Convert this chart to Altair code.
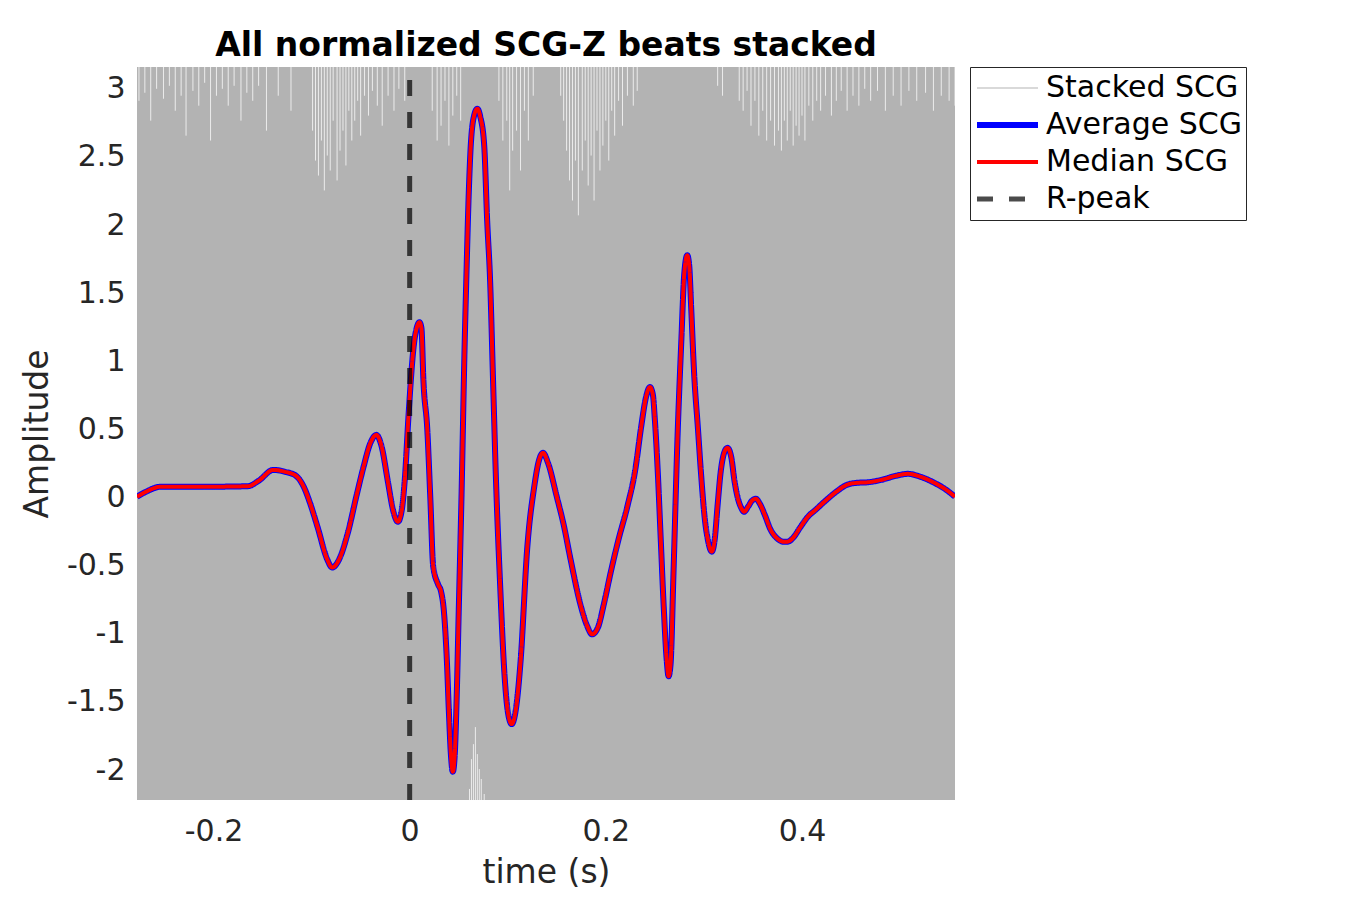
import altair as alt
import pandas as pd

# ---- data ----
time_s = [-0.278, -0.269, -0.254, -0.213, -0.165, -0.154, -0.139, -0.127, -0.116, -0.108,
          -0.101, -0.094, -0.084, -0.079, -0.072, -0.063, -0.054, -0.047, -0.040, -0.034,
          -0.029, -0.022, -0.017, -0.012, -0.008, -0.005, -0.001, 0.004, 0.008, 0.010,
          0.012, 0.014, 0.018, 0.021, 0.024, 0.029, 0.032, 0.035, 0.038, 0.040,
          0.042, 0.044, 0.046, 0.048, 0.050, 0.053, 0.056, 0.058, 0.060, 0.062,
          0.065, 0.069, 0.072, 0.076, 0.079, 0.082, 0.085, 0.088, 0.092, 0.097,
          0.100, 0.104, 0.108, 0.113, 0.120, 0.127, 0.132, 0.136, 0.141, 0.150,
          0.157, 0.164, 0.174, 0.181, 0.186, 0.192, 0.198, 0.205, 0.213, 0.222,
          0.230, 0.236, 0.241, 0.245, 0.248, 0.250, 0.253, 0.256, 0.259, 0.262,
          0.264, 0.266, 0.269, 0.273, 0.277, 0.280, 0.283, 0.285, 0.287, 0.290,
          0.294, 0.297, 0.301, 0.304, 0.308, 0.311, 0.314, 0.317, 0.321, 0.324,
          0.328, 0.331, 0.335, 0.338, 0.341, 0.345, 0.349, 0.353, 0.357, 0.362,
          0.368, 0.375, 0.381, 0.385, 0.391, 0.398, 0.406, 0.414, 0.424, 0.435,
          0.446, 0.456, 0.467, 0.481, 0.496, 0.508, 0.521, 0.535, 0.547, 0.556]
average_scg = [0.006, 0.042, 0.079, 0.079, 0.083, 0.123, 0.203, 0.189, 0.160, 0.079,
               -0.053, -0.214, -0.455, -0.514, -0.455, -0.258, 0.020, 0.226, 0.401, 0.460,
               0.386, 0.108, -0.090, -0.178, -0.090, 0.130, 0.621, 1.104, 1.265, 1.287,
               1.243, 0.862, 0.496, 0.006, -0.506, -0.638, -0.690, -0.843, -1.209, -1.575,
               -1.883, -2.013, -1.883, -1.450, -0.843, 0.057, 1.104, 1.668, 2.180, 2.546,
               2.780, 2.854, 2.795, 2.584, 2.035, 1.595, 0.863, 0.130, -0.602, -1.334,
               -1.568, -1.663, -1.568, -1.209, -0.358, 0.079, 0.277, 0.328, 0.255, 0.006,
               -0.199, -0.452, -0.782, -0.943, -1.004, -0.953, -0.782, -0.548, -0.306, -0.064,
               0.203, 0.518, 0.738, 0.811, 0.753, 0.570, 0.182, -0.309, -0.799, -1.187,
               -1.312, -1.224, -0.551, 0.423, 1.156, 1.646, 1.778, 1.705, 1.397, 0.914,
               0.497, 0.182, -0.163, -0.309, -0.397, -0.309, -0.053, 0.182, 0.336, 0.365,
               0.292, 0.130, -0.016, -0.075, -0.104, -0.068, -0.023, -0.009, -0.045, -0.126,
               -0.236, -0.302, -0.324, -0.324, -0.295, -0.221, -0.141, -0.089, -0.023, 0.043,
               0.094, 0.108, 0.112, 0.130, 0.160, 0.174, 0.152, 0.108, 0.057, 0.006]
median_scg = list(average_scg)  # visually identical to the average

# envelope of the stacked beats (extends beyond the visible axes)
stacked_t = [-0.278, 0.556]
stacked_lo = [-2.35, -2.35]
stacked_hi = [3.30, 3.30]

# white gaps between stacked beats near the top edge (time, lowest amplitude reached)
top_gap_t = [-0.276, -0.270, -0.264, -0.258, -0.251, -0.245, -0.239, -0.233, -0.228, -0.221,
             -0.215, -0.209, -0.203, -0.197, -0.191, -0.185, -0.179, -0.172, -0.166, -0.160,
             -0.154, -0.146, -0.134, -0.121,
             -0.099, -0.096, -0.093, -0.090, -0.087, -0.084, -0.081, -0.078, -0.074, -0.071,
             -0.068, -0.065, -0.062, -0.059, -0.056, -0.053, -0.050, -0.046, -0.042, -0.038,
             -0.033, -0.028, -0.022, -0.016, -0.011, -0.005,
             0.023, 0.028, 0.032, 0.036, 0.040, 0.044, 0.048, 0.052,
             0.091, 0.095, 0.099, 0.102, 0.105, 0.109, 0.113, 0.117, 0.121, 0.126,
             0.154, 0.157, 0.160, 0.163, 0.166, 0.169, 0.172, 0.176, 0.179, 0.182,
             0.185, 0.188, 0.191, 0.194, 0.197, 0.200, 0.203, 0.206, 0.209, 0.213,
             0.217, 0.222, 0.228, 0.232,
             0.314, 0.319,
             0.336, 0.340, 0.344, 0.348, 0.352, 0.356, 0.360, 0.364, 0.368, 0.372,
             0.376, 0.379, 0.382, 0.385, 0.388, 0.391, 0.394, 0.397, 0.400, 0.403,
             0.407, 0.411, 0.415, 0.419, 0.424, 0.430, 0.435, 0.440, 0.446, 0.452,
             0.458, 0.464, 0.470, 0.477, 0.485, 0.493, 0.501, 0.509, 0.517, 0.526,
             0.534, 0.542, 0.550, 0.556]
top_gap_y = [2.912, 2.971, 2.766, 3.000, 2.927, 3.022, 2.839, 2.949, 2.656, 2.985,
             2.876, 3.044, 2.620, 2.949, 3.000, 2.876, 3.022, 2.766, 2.971, 2.912,
             3.022, 2.693, 2.949, 2.839,
             2.693, 2.473, 2.363, 2.620, 2.254, 2.510, 2.400, 2.766, 2.327, 2.546,
             2.693, 2.437, 2.839, 2.620, 2.766, 2.912, 2.656, 2.949, 2.803, 2.985,
             2.876, 2.729, 2.949, 2.839, 3.000, 2.912,
             2.839, 2.620, 2.729, 2.912, 2.583, 2.803, 2.949, 2.766,
             2.912, 2.620, 2.766, 2.254, 2.546, 2.693, 2.400, 2.839, 2.620, 2.949,
             2.949, 2.766, 2.546, 2.327, 2.180, 2.473, 2.071, 2.400, 2.620, 2.290,
             2.510, 2.180, 2.693, 2.400, 2.583, 2.766, 2.473, 2.839, 2.656, 2.912,
             2.729, 2.949, 2.876, 2.985,
             3.022, 2.949,
             2.912, 2.839, 2.985, 2.729, 2.912, 2.656, 2.839, 2.620, 2.766, 2.583,
             2.693, 2.546, 2.766, 2.620, 2.839, 2.583, 2.729, 2.656, 2.803, 2.620,
             2.876, 2.766, 2.912, 2.839, 2.949, 2.803, 2.912, 2.985, 2.839, 2.949,
             2.876, 3.000, 2.912, 2.985, 2.839, 2.949, 2.876, 2.985, 2.912, 2.971,
             2.839, 2.949, 2.912, 2.876]

# white gaps near the bottom edge (time, highest amplitude reached)
bottom_gap_t = [0.061, 0.063, 0.065, 0.067, 0.069, 0.071, 0.073, 0.076]
bottom_gap_y = [-2.139, -1.920, -1.810, -1.685, -1.883, -1.993, -2.066, -2.176]

x_domain = [-0.278, 0.556]
y_domain = [-2.22, 3.16]
x_ticks = [-0.2, 0, 0.2, 0.4]
y_ticks = [-2, -1.5, -1, -0.5, 0, 0.5, 1, 1.5, 2, 2.5, 3]

series_names = ["Stacked SCG", "Average SCG", "Median SCG", "R-peak"]
series_colors = ["#b3b3b3", "#0000ff", "#ff0000", "#000000"]
series_widths = [1, 6, 4, 5]
series_dashes = [[1, 0], [1, 0], [1, 0], [16, 16]]
series_opacity = [1, 1, 1, 0.7]

# ---- tables ----
lines_df = pd.concat([
    pd.DataFrame({"t": stacked_t, "v": stacked_lo, "series": "Stacked SCG"}),
    pd.DataFrame({"t": time_s, "v": average_scg, "series": "Average SCG"}),
    pd.DataFrame({"t": time_s, "v": median_scg, "series": "Median SCG"}),
    pd.DataFrame({"t": [0, 0], "v": y_domain, "series": "R-peak"}),
], ignore_index=True)

env_df = pd.DataFrame({"t": stacked_t, "lo": stacked_lo, "hi": stacked_hi})
top_df = pd.DataFrame({"t": top_gap_t, "v": top_gap_y, "v2": y_domain[1]})
bot_df = pd.DataFrame({"t": bottom_gap_t, "v": bottom_gap_y, "v2": y_domain[0]})

xs = alt.Scale(domain=x_domain, nice=False, zero=False)
ys = alt.Scale(domain=y_domain, nice=False, zero=False)

x_axis = alt.Axis(values=x_ticks, title="time (s)", labelExpr="toString(datum.value)",
                  labelPadding=16, titlePadding=10)
y_axis = alt.Axis(values=y_ticks, title="Amplitude", labelExpr="toString(datum.value)",
                  labelPadding=12, titlePadding=12)

X = alt.X("t:Q", scale=xs, axis=x_axis)
Y = alt.Y("v:Q", scale=ys, axis=y_axis)

area = alt.Chart(env_df).mark_area(color="#b3b3b3", clip=True).encode(
    x=alt.X("t:Q", scale=xs, axis=x_axis),
    y=alt.Y("lo:Q", scale=ys, axis=y_axis),
    y2="hi:Q",
)

top_gaps = alt.Chart(top_df).mark_rule(color="white", strokeWidth=1, opacity=0.75, clip=True).encode(
    x=X, y=Y, y2="v2:Q")
bot_gaps = alt.Chart(bot_df).mark_rule(color="white", strokeWidth=1, opacity=0.75, clip=True).encode(
    x=X, y=Y, y2="v2:Q")

legend = alt.Legend(title=None, orient="right", offset=15, symbolType="stroke",
                    symbolSize=3721, labelFontSize=30, labelFont="DejaVu Sans",
                    labelColor="#000000", labelLimit=500, labelOffset=5,
                    padding=4, rowPadding=3, clipHeight=34,
                    strokeColor="#262626", fillColor="white", cornerRadius=0)

enc = dict(
    x=X, y=Y,
    color=alt.Color("series:N", scale=alt.Scale(domain=series_names, range=series_colors), legend=legend),
    strokeWidth=alt.StrokeWidth("series:N", scale=alt.Scale(type="ordinal", domain=series_names, range=series_widths), legend=legend),
    strokeDash=alt.StrokeDash("series:N", scale=alt.Scale(domain=series_names, range=series_dashes), legend=legend),
    opacity=alt.Opacity("series:N", scale=alt.Scale(type="ordinal", domain=series_names, range=series_opacity), legend=legend),
)

def series_layer(name, interp):
    return alt.Chart(lines_df).transform_filter(alt.datum.series == name).mark_line(
        clip=True, interpolate=interp, strokeCap="butt").encode(**enc)

chart = alt.layer(
    area, top_gaps, bot_gaps,
    series_layer("Stacked SCG", "linear"),
    series_layer("Average SCG", "monotone"),
    series_layer("Median SCG", "monotone"),
    series_layer("R-peak", "linear"),
).properties(
    width=818, height=733,
    background="white",
    title=alt.TitleParams("All normalized SCG-Z beats stacked", fontSize=33, fontWeight="bold",
                          font="DejaVu Sans", color="#000000", anchor="middle", offset=4),
    autosize=alt.AutoSizeParams(type="none"),
    padding={"left": 129, "top": 59, "right": 387, "bottom": 92},
).configure_view(stroke=None).configure_axis(
    grid=False, domain=False, ticks=False, tickSize=0,
    labelFont="DejaVu Sans", labelFontSize=30, labelColor="#262626",
    titleFont="DejaVu Sans", titleFontSize=33, titleColor="#262626", titleFontWeight="normal",
)

chart.save("out.html", embed_options={"renderer": "svg", "actions": False})
